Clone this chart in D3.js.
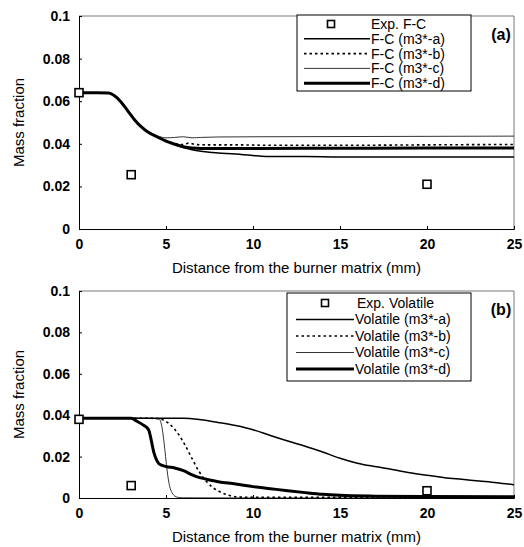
<!DOCTYPE html>
<html>
<head>
<meta charset="utf-8">
<script src="https://cdn.jsdelivr.net/npm/d3@7"></script>
<style>
  body { margin: 0; background: #fff; }
  svg { display: block; }
  text { font-family: "Liberation Sans", Arial, sans-serif; fill: #000; }
</style>
</head>
<body>
<div id="chart"></div>
<script>
// x positions (mm) and tick labels
var xTicks = [0, 5, 10, 15, 20, 25];
var yTicks = [0, 0.02, 0.04, 0.06, 0.08, 0.1];
var yTickLabels = ["0", "0.02", "0.04", "0.06", "0.08", "0.1"];

// panel (a) : F-C
var expFC_x = [0, 3, 20];
var expFC_y = [0.064, 0.0255, 0.021];

var fcA_x = [0, 1, 1.7, 2.0, 2.4, 2.8, 3.2, 3.6, 4, 4.5, 5, 5.5, 6, 6.5, 7, 7.5, 8, 9, 10, 10.5, 11, 13, 15, 18, 20, 22, 25];
var fcA_y = [0.064, 0.064, 0.0638, 0.0628, 0.0598, 0.0555, 0.0512, 0.0478, 0.0453, 0.0432, 0.0413, 0.0397, 0.0382, 0.0372, 0.0365, 0.036, 0.0357, 0.0352, 0.0345, 0.0341, 0.034, 0.034, 0.0338, 0.0338, 0.0338, 0.0338, 0.0338];

var fcB_x = [0, 1, 1.7, 2.0, 2.4, 2.8, 3.2, 3.6, 4, 4.5, 5, 5.5, 6, 6.3, 6.8, 7.5, 9, 11, 15, 20, 25];
var fcB_y = [0.064, 0.064, 0.0638, 0.0628, 0.0598, 0.0555, 0.0512, 0.0478, 0.0453, 0.0432, 0.0415, 0.0402, 0.0396, 0.0403, 0.0396, 0.0395, 0.0395, 0.0393, 0.0393, 0.0395, 0.0397];

var fcC_x = [0, 1, 1.7, 2.0, 2.4, 2.8, 3.2, 3.6, 4, 4.5, 5, 5.5, 6, 6.5, 7, 8, 10, 15, 20, 25];
var fcC_y = [0.064, 0.064, 0.0638, 0.0628, 0.0598, 0.0555, 0.0512, 0.048, 0.0457, 0.0438, 0.0428, 0.043, 0.0433, 0.0428, 0.043, 0.0432, 0.0433, 0.0434, 0.0435, 0.0436];

var fcD_x = [0, 1, 1.7, 2.0, 2.4, 2.8, 3.2, 3.6, 4, 4.5, 5, 5.5, 6, 6.5, 7, 8, 10, 15, 20, 25];
var fcD_y = [0.064, 0.064, 0.0638, 0.0628, 0.0598, 0.0555, 0.0512, 0.0478, 0.0453, 0.0432, 0.0413, 0.0398, 0.0386, 0.038, 0.0378, 0.0378, 0.0378, 0.0379, 0.038, 0.038];

// panel (b) : Volatile
var expVol_x = [0, 3, 20];
var expVol_y = [0.038, 0.006, 0.0035];

var volA_x = [0, 2, 4, 6, 7, 8, 9, 10, 11, 12, 13, 14, 15, 16, 17, 18, 19, 20, 21, 22, 23, 24, 25];
var volA_y = [0.0385, 0.0385, 0.0385, 0.0385, 0.0378, 0.0365, 0.035, 0.033, 0.0302, 0.0275, 0.025, 0.0222, 0.0192, 0.0168, 0.0152, 0.0138, 0.0122, 0.011, 0.0098, 0.009, 0.0082, 0.0074, 0.0064];

var volB_x = [0, 2, 4, 4.5, 4.9, 5.3, 5.7, 6.1, 6.5, 6.9, 7.3, 7.7, 8.1, 8.6, 9.2, 10, 15, 20, 25];
var volB_y = [0.0385, 0.0385, 0.0385, 0.0384, 0.0375, 0.035, 0.031, 0.0255, 0.019, 0.0128, 0.0082, 0.005, 0.003, 0.0013, 0.0005, 0.0003, 0.0003, 0.0004, 0.0004];

var volC_x = [0, 2, 4, 4.6, 4.75, 4.9, 5.0, 5.1, 5.2, 5.35, 5.5, 5.7, 6, 10, 25];
var volC_y = [0.0385, 0.0385, 0.0385, 0.0382, 0.035, 0.026, 0.018, 0.011, 0.006, 0.0025, 0.001, 0.0003, 0.0001, 0, 0];

var volD_x = [0, 2, 3, 3.3, 3.7, 4.0, 4.15, 4.3, 4.45, 4.6, 5.0, 5.5, 6.0, 6.5, 7, 7.5, 8, 9, 10, 11, 12, 13, 14, 15, 17, 20, 25];
var volD_y = [0.0385, 0.0385, 0.0385, 0.0372, 0.0352, 0.033, 0.028, 0.022, 0.0185, 0.0165, 0.0152, 0.0145, 0.0132, 0.0112, 0.0097, 0.0087, 0.0079, 0.0068, 0.0055, 0.0045, 0.0035, 0.0026, 0.0018, 0.0013, 0.0009, 0.0007, 0.0006];

var fcLabels = ["Exp. F-C", "F-C (m3*-a)", "F-C (m3*-b)", "F-C (m3*-c)", "F-C (m3*-d)"];
var volLabels = ["Exp. Volatile", "Volatile (m3*-a)", "Volatile (m3*-b)", "Volatile (m3*-c)", "Volatile (m3*-d)"];

function zip(xs, ys) { return xs.map(function(x, i) { return [x, ys[i]]; }); }

var W = 524, H = 547;
var svg = d3.select("#chart").append("svg").attr("width", W).attr("height", H);

// line styles for a, b, c, d
var styles = [
  { w: 1.5, dash: null },
  { w: 1.6, dash: "2.5,3" },
  { w: 0.8, dash: null },
  { w: 3, dash: null }
];

function panel(cfg) {
  var x = d3.scaleLinear().domain([0, 25]).range([79, 514]);
  var y = d3.scaleLinear().domain([0, 0.1]).range([cfg.bottom, cfg.top]);
  var g = svg.append("g");

  // frame (top + right)
  g.append("path")
    .attr("d", "M" + x(0) + "," + y(0.1) + "H" + x(25) + "V" + y(0))
    .attr("fill", "none").attr("stroke", "#555").attr("stroke-width", 0.8);

  var xAxis = g.append("g").attr("transform", "translate(0," + y(0) + ")")
    .call(d3.axisBottom(x).tickValues(xTicks).tickSize(-3).tickPadding(10).tickFormat(d3.format("d")));
  var yAxis = g.append("g").attr("transform", "translate(" + x(0) + ",0)")
    .call(d3.axisLeft(y).tickValues(yTicks).tickSize(-3).tickPadding(9)
      .tickFormat(function(d, i) { return yTickLabels[i]; }));
  [xAxis, yAxis].forEach(function(a) {
    a.select(".domain").attr("stroke", "#000").attr("stroke-width", 1);
    a.selectAll(".tick line").attr("stroke", "#000");
    a.selectAll("text").style("font-size", "14px").style("font-weight", "bold")
      .style("font-family", "'Liberation Sans', Arial, sans-serif");
  });

  var line = d3.line().x(function(d) { return x(d[0]); }).y(function(d) { return y(d[1]); })
    .curve(d3.curveMonotoneX);

  cfg.series.forEach(function(s, i) {
    g.append("path").datum(s).attr("d", line)
      .attr("fill", "none").attr("stroke", "#000")
      .attr("stroke-width", styles[i].w)
      .attr("stroke-dasharray", styles[i].dash)
      .attr("stroke-linejoin", "round");
  });

  g.selectAll("rect.exp").data(cfg.exp).enter().append("rect").attr("class", "exp")
    .attr("x", function(d) { return x(d[0]) - 4; })
    .attr("y", function(d) { return y(d[1]) - 4; })
    .attr("width", 8).attr("height", 8)
    .attr("fill", "#fff").attr("stroke", "#000").attr("stroke-width", 1.6);

  // axis titles
  g.append("text").attr("x", (x(0) + x(25)) / 2).attr("y", cfg.bottom + 44)
    .attr("text-anchor", "middle").style("font-size", "15px")
    .text("Distance from the burner matrix (mm)");
  g.append("text")
    .attr("transform", "translate(24," + (cfg.top + cfg.bottom) / 2 + ") rotate(-90)")
    .attr("text-anchor", "middle").style("font-size", "15px")
    .text("Mass fraction");

  // panel letter
  g.append("text").attr("x", 501).attr("y", cfg.top + 24).attr("text-anchor", "middle")
    .style("font-size", "16px").style("font-weight", "bold").text(cfg.letter);

  // legend
  var L = cfg.legend;
  var lg = g.append("g");
  lg.append("rect").attr("x", L.x).attr("y", L.y).attr("width", L.w).attr("height", L.h)
    .attr("fill", "#fff").attr("stroke", "#000").attr("stroke-width", 1);
  cfg.labels.forEach(function(t, i) {
    var ry = L.y + L.first + i * L.dy;
    if (i === 0) {
      lg.append("rect").attr("x", L.mark - 3.5).attr("y", ry - 3.5).attr("width", 7).attr("height", 7)
        .attr("fill", "#fff").attr("stroke", "#000").attr("stroke-width", 1.6);
      lg.append("text").attr("x", L.text0).attr("y", ry).attr("dy", "0.35em")
        .style("font-size", "14px").text(t);
    } else {
      var st = styles[i - 1];
      lg.append("line").attr("x1", L.l1).attr("x2", L.l2).attr("y1", ry).attr("y2", ry)
        .attr("stroke", "#000").attr("stroke-width", st.w).attr("stroke-dasharray", st.dash);
      lg.append("text").attr("x", L.l2 + 1).attr("y", ry).attr("dy", "0.35em")
        .style("font-size", "14px").text(t);
    }
  });
}

panel({
  top: 16, bottom: 229, letter: "(a)",
  exp: zip(expFC_x, expFC_y),
  series: [zip(fcA_x, fcA_y), zip(fcB_x, fcB_y), zip(fcC_x, fcC_y), zip(fcD_x, fcD_y)],
  labels: fcLabels,
  legend: { x: 297, y: 15, w: 174, h: 76, first: 9, dy: 14.8, mark: 331, text0: 371, l1: 304, l2: 370 }
});

panel({
  top: 291, bottom: 498, letter: "(b)",
  exp: zip(expVol_x, expVol_y),
  series: [zip(volA_x, volA_y), zip(volB_x, volB_y), zip(volC_x, volC_y), zip(volD_x, volD_y)],
  labels: volLabels,
  legend: { x: 287, y: 293, w: 184, h: 88, first: 10, dy: 16.5, mark: 325, text0: 357, l1: 296, l2: 354 }
});
</script>
</body>
</html>
